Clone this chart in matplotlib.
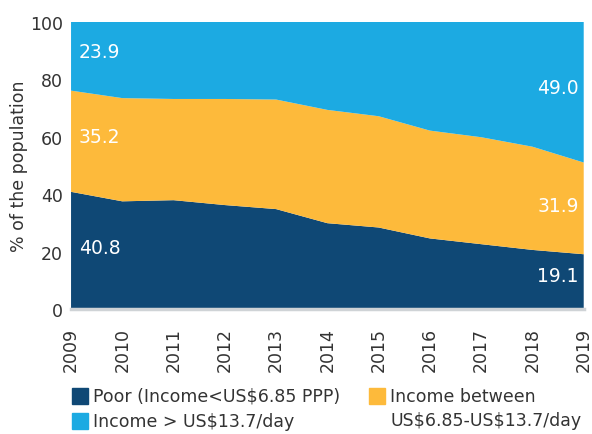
import matplotlib.pyplot as plt
from matplotlib.patches import Rectangle

plt.rcParams['font.family'] = ['DejaVu Sans']

# Data
years = [2009, 2010, 2011, 2012, 2013, 2014, 2015, 2016, 2017, 2018, 2019]
poor = [40.8, 37.5, 37.9, 36.2, 34.8, 29.9, 28.4, 24.6, 22.6, 20.6, 19.1]
middle = [35.2, 35.9, 35.2, 36.9, 38.1, 39.4, 38.7, 37.5, 37.2, 35.9, 31.9]
upper = [23.9, 26.6, 26.9, 26.9, 27.1, 30.7, 32.9, 37.9, 40.2, 43.5, 49.0]

labels = [r'Poor (Income<US\$6.85 PPP)',
          'Income between\n' + r'US\$6.85-US\$13.7/day',
          r'Income > US\$13.7/day']
colors = ['#0f4875', '#fdba3b', '#1caae2']
text_color = '#333333'

W, H = 592, 435
fig = plt.figure(figsize=(W / 100, H / 100), dpi=100)
ax = fig.add_axes([0.12, 0.287, 0.866, 0.661])

polys = ax.stackplot(years, poor, middle, upper, colors=colors, linewidth=0)

ax.set_xlim(years[0], years[-1])
ax.set_ylim(0, 100)
ax.set_yticks(range(0, 101, 20))
ax.set_xticks(years)
ax.set_xticklabels([str(y) for y in years], rotation=90)
ax.tick_params(length=0, labelsize=12.5, colors=text_color)
ax.tick_params(axis='y', pad=6)
ax.tick_params(axis='x', pad=13)
ax.set_ylabel('% of the population', fontsize=12.5, color=text_color, labelpad=1)

for s in ['top', 'right', 'left']:
    ax.spines[s].set_visible(False)
ax.spines['bottom'].set_color('#cfd3d6')
ax.spines['bottom'].set_linewidth(2.5)

# value labels at both ends
lab_kw = dict(color='white', fontsize=13.5, va='center')
ax.text(2009.15, 21.6, f'{poor[0]:.1f}', ha='left', **lab_kw)
ax.text(2009.15, 60.0, f'{middle[0]:.1f}', ha='left', **lab_kw)
ax.text(2009.15, 89.5, f'{upper[0]:.1f}', ha='left', **lab_kw)
ax.text(2018.9, 11.8, f'{poor[-1]:.1f}', ha='right', **lab_kw)
ax.text(2018.9, 36.2, f'{middle[-1]:.1f}', ha='right', **lab_kw)
ax.text(2018.9, 77.0, f'{upper[-1]:.1f}', ha='right', **lab_kw)


# legend drawn by hand (pixel positions from the top-left corner)
def legend_item(x, y, color, text):
    fig.patches.append(Rectangle((x / W, 1 - (y + 8) / H), 16 / W, 16 / H,
                                 transform=fig.transFigure, color=color))
    fig.text((x + 21) / W, 1 - (y - 9) / H, text, fontsize=12.5,
             color=text_color, va='top', ha='left', linespacing=1.45)


legend_item(72, 397, colors[0], labels[0])
legend_item(72, 422, colors[2], labels[2])
legend_item(369, 397, colors[1], labels[1])

fig.savefig('out.png', dpi=100)
